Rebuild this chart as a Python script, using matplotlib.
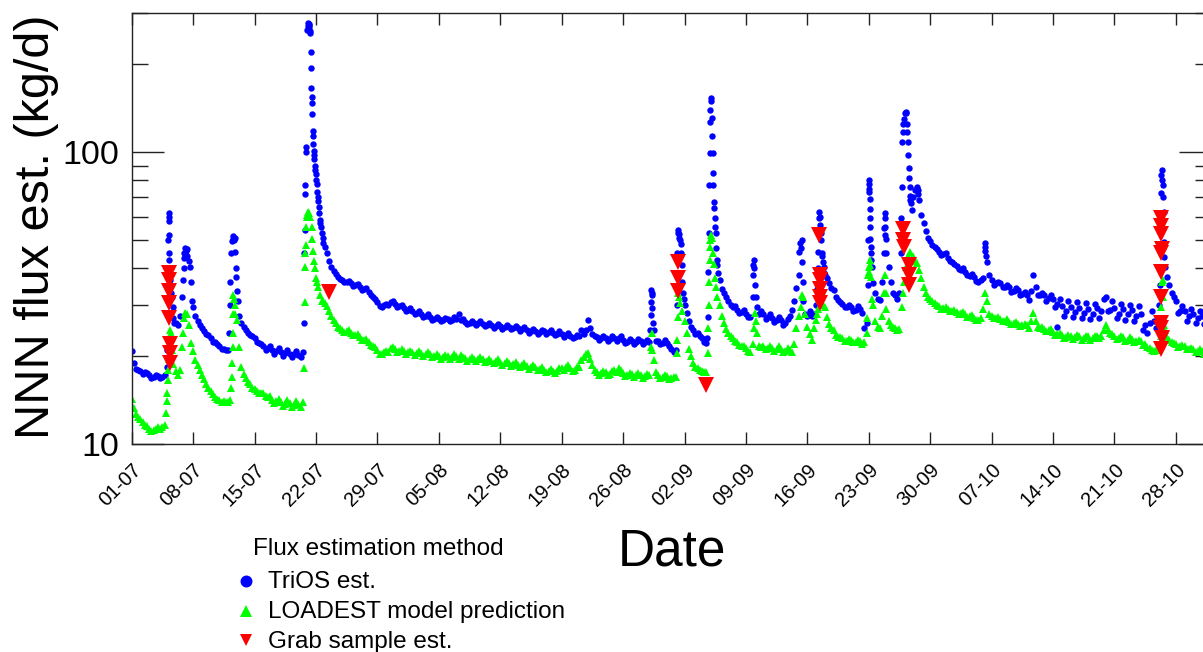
import numpy as np
import pandas as pd
import matplotlib
matplotlib.use("Agg")
import matplotlib.pyplot as plt
import matplotlib.dates as mdates
from matplotlib import ticker
from matplotlib.lines import Line2D

plt.rcParams['font.family'] = ['Liberation Sans', 'DejaVu Sans']

start = pd.Timestamp('2014-07-01')

# TriOS NNN flux (kg/d), four readings a day (00, 06, 12, 18 h) from 1 July
trios_daily = [
    [20.8, 19.0, 18.1, 17.9], [17.8, 17.4, 17.6, 17.5], [17.2, 16.8, 17.0, 17.2],
    [17.1, 16.8, 17.0, 17.3], [18.4, 45.0, 33.0, 27.0], [26.0, 25.6, 27.5, 32.0],
    [45.0, 46.5, 42.5, 36.0], [29.5, 27.5, 26.3, 25.5], [24.9, 24.3, 23.9, 23.6],
    [23.0, 22.4, 22.3, 22.0], [21.6, 21.1, 21.1, 21.0], [21.0, 36.0, 50.5, 51.0],
    [33.5, 27.5, 26.0, 25.2], [24.6, 24.0, 23.7, 23.4], [23.0, 22.4, 22.2, 22.0],
    [21.6, 21.0, 21.3, 21.6], [21.0, 20.4, 20.8, 21.3], [20.6, 20.1, 20.5, 21.0],
    [20.4, 19.9, 20.3, 20.8], [20.2, 19.9, 20.6, 54.0], [262.0, 272.0, 155.0, 98.0],
    [84.0, 68.0, 57.0, 51.0], [47.3, 45.0, 42.5, 40.5], [39.3, 38.2, 37.4, 36.8],
    [36.4, 35.8, 36.0, 36.2], [35.5, 34.8, 35.0, 35.3], [34.5, 33.7, 34.0, 34.2],
    [33.2, 32.3, 32.0, 31.5], [30.6, 29.7, 29.5, 30.0], [30.3, 30.0, 30.6, 31.0],
    [30.2, 29.5, 29.6, 30.0], [29.3, 28.6, 28.9, 29.3], [28.5, 27.9, 28.1, 28.6],
    [28.0, 27.3, 27.5, 28.0], [27.2, 26.6, 26.8, 27.3], [26.9, 26.4, 26.6, 27.1],
    [26.8, 26.3, 26.7, 27.2], [26.8, 27.8, 26.7, 26.9], [26.2, 25.7, 25.9, 26.3],
    [25.9, 25.5, 26.0, 26.4], [25.8, 25.3, 25.6, 26.0], [25.5, 25.0, 25.3, 25.7],
    [25.3, 24.8, 25.1, 25.6], [25.2, 24.7, 25.0, 25.4], [24.9, 24.4, 24.7, 25.1],
    [24.5, 24.0, 24.3, 24.7], [24.4, 23.9, 24.2, 24.6], [24.3, 23.8, 24.2, 24.6],
    [24.1, 23.6, 23.9, 24.3], [23.8, 23.3, 23.6, 24.0], [23.5, 23.0, 23.3, 23.7],
    [23.4, 24.6, 23.8, 24.5], [26.6, 25.0, 23.9, 23.5], [23.3, 22.8, 23.1, 23.5],
    [23.1, 22.6, 22.9, 23.4], [23.0, 22.5, 23.0, 23.5], [22.7, 22.2, 22.4, 22.9],
    [22.6, 22.1, 22.4, 22.9], [22.5, 22.0, 22.3, 22.8], [22.4, 33.0, 24.5, 22.6],
    [22.5, 22.0, 22.2, 22.8], [22.2, 21.6, 21.2, 20.6], [21.0, 53.0, 50.0, 36.0],
    [30.0, 28.1, 26.5, 25.2], [24.5, 23.8, 24.0, 23.4], [23.0, 22.3, 22.2, 53.0],
    [154.0, 85.0, 55.5, 41.0], [36.4, 34.0, 32.8, 31.8], [31.0, 29.9, 29.5, 29.6],
    [28.9, 28.1, 28.3, 28.7], [27.9, 27.2, 27.2, 32.0], [35.0, 29.5, 28.0, 28.6],
    [27.8, 26.8, 27.3, 28.0], [27.0, 26.2, 26.6, 27.3], [26.6, 25.6, 26.0, 26.8],
    [27.5, 28.8, 31.0, 34.2], [38.0, 47.0, 31.0, 28.0], [27.5, 28.5, 27.5, 28.0],
    [30.0, 45.4, 53.0, 42.0], [38.0, 37.0, 35.5, 34.3], [33.6, 32.0, 31.2, 30.6],
    [30.3, 29.4, 29.5, 30.0], [29.5, 28.6, 28.9, 29.6], [29.0, 28.1, 25.0, 26.0],
    [75.0, 42.7, 35.5, 33.0], [31.5, 31.1, 36.0, 55.0], [45.0, 40.5, 36.0, 33.0],
    [32.5, 31.5, 33.0, 76.2], [130.0, 136.0, 98.0, 68.5], [70.0, 74.0, 76.0, 68.5],
    [61.0, 57.0, 53.5, 51.0], [49.5, 48.0, 47.2, 46.5], [45.5, 44.6, 44.8, 45.0],
    [43.5, 42.5, 42.2, 41.5], [40.8, 39.8, 39.6, 40.0], [39.0, 37.8, 37.6, 38.2],
    [37.5, 36.3, 35.8, 36.5], [37.0, 48.9, 42.0, 38.0], [36.4, 35.2, 35.5, 36.0],
    [35.5, 34.4, 34.6, 35.2], [34.5, 33.3, 33.5, 34.2], [33.6, 32.3, 32.6, 33.3],
    [32.4, 31.1, 33.5, 37.9], [34.5, 32.5, 32.3, 33.0], [32.4, 30.8, 31.6, 32.5],
    [31.5, 29.4, 30.3, 31.5], [29.8, 27.5, 28.6, 30.8], [29.5, 27.2, 28.4, 30.6],
    [29.3, 27.0, 28.2, 30.4], [29.0, 26.8, 28.0, 30.2], [29.2, 27.0, 28.6, 31.5],
    [31.8, 28.6, 28.8, 30.8], [29.3, 27.0, 28.0, 30.2], [29.0, 26.7, 27.8, 30.0],
    [28.7, 26.4, 27.5, 29.7], [28.0, 24.6, 25.5, 24.0], [26.0, 28.5, 26.5, 25.0],
    [24.5, 55.0, 77.0, 40.5], [37.4, 35.0, 33.0, 31.9], [31.0, 28.2, 28.5, 29.8],
    [28.6, 26.5, 27.5, 29.0], [28.0, 25.9, 27.0, 28.5], [27.5, 25.7, 26.6, 28.0],
]

# extra TriOS readings through the storm peaks: (days since 1 July, kg/d)
trios_storm = [
    (4.05, 21.0), (4.1, 28.0), (4.14, 40.0), (4.17, 50.0), (4.2, 58.0), (4.22, 61.8),
    (4.24, 60.0), (4.27, 52.0), (4.3, 42.7), (4.35, 40.0), (4.42, 36.4), (4.58, 31.8),
    (4.65, 29.5), (4.85, 26.0),
    (5.85, 36.5), (5.92, 40.0), (5.97, 43.5), (6.1, 47.0), (6.18, 46.0), (6.35, 44.0),
    (6.6, 40.4), (6.88, 31.0),
    (11.1, 24.0), (11.17, 30.0), (11.35, 45.0), (11.42, 49.5), (11.6, 51.5), (11.68, 50.0),
    (11.82, 45.5), (11.88, 40.0), (11.93, 37.5), (12.1, 31.0),
    (19.62, 26.0), (19.68, 45.0), (19.78, 72.0), (19.8, 77.0), (19.84, 100.0), (19.86, 104.0),
    (20.05, 270.0), (20.1, 277.0), (20.15, 275.0), (20.2, 268.0), (20.3, 260.0), (20.35, 256.0),
    (20.4, 220.0), (20.43, 194.0), (20.47, 166.0), (20.55, 147.0), (20.58, 135.0), (20.62, 118.0),
    (20.65, 114.0), (20.7, 107.0), (20.72, 101.0), (20.8, 94.6), (20.88, 90.0), (20.93, 87.0),
    (21.05, 80.0), (21.1, 78.0), (21.15, 73.0), (21.2, 70.0), (21.3, 65.0), (21.38, 62.0),
    (21.45, 58.5), (21.55, 55.5), (21.65, 52.8), (21.85, 49.0),
    (59.1, 24.6), (59.13, 27.7), (59.17, 30.7), (59.2, 33.6), (59.3, 32.4), (59.33, 29.2),
    (59.38, 25.9),
    (62.1, 30.0), (62.17, 45.0), (62.3, 54.1), (62.35, 52.5), (62.42, 51.0), (62.55, 48.5),
    (62.62, 45.0), (62.68, 41.0), (62.85, 33.0), (62.92, 31.5),
    (65.6, 23.0), (65.65, 27.2), (65.7, 38.8), (65.8, 77.0), (65.85, 99.5), (65.9, 127.0),
    (65.95, 139.0), (66.05, 150.0), (66.1, 131.0), (66.15, 114.0), (66.2, 99.0), (66.3, 77.0),
    (66.35, 67.6), (66.4, 64.5), (66.45, 59.5), (66.55, 52.8), (66.62, 47.0), (66.7, 42.7),
    (66.85, 38.5),
    (70.8, 38.0), (70.85, 41.0), (70.9, 42.7), (70.95, 40.0), (71.1, 32.0),
    (76.1, 45.4), (76.2, 48.8), (76.35, 50.0), (76.4, 42.0), (76.45, 36.0),
    (78.1, 34.0), (78.2, 40.0), (78.3, 59.5), (78.35, 62.2), (78.4, 60.0), (78.45, 56.5),
    (78.55, 50.0), (78.65, 45.0), (78.7, 44.0), (78.85, 40.5), (78.92, 38.5),
    (83.9, 35.0), (83.95, 50.0), (84.03, 80.0), (84.05, 78.0), (84.07, 73.0), (84.09, 69.3),
    (84.11, 64.0), (84.13, 59.3), (84.15, 55.5), (84.18, 50.6), (84.2, 47.4), (84.22, 45.0),
    (84.32, 40.5),
    (85.7, 45.0), (85.8, 61.7), (85.83, 59.3), (85.86, 55.5), (85.9, 52.0), (85.95, 50.3),
    (87.65, 45.0), (87.7, 59.3), (87.8, 108.0), (87.85, 117.0), (87.9, 125.0), (88.1, 136.0),
    (88.2, 137.6), (88.3, 125.0), (88.4, 117.0), (88.45, 108.0), (88.55, 88.0), (88.62, 81.5),
    (88.68, 76.0), (88.72, 71.0), (88.82, 66.8), (88.9, 63.4), (89.6, 74.0), (89.65, 72.0),
    (97.2, 46.0), (97.3, 47.4), (97.38, 44.0),
    (105.4, 25.2),
    (117.1, 30.0), (117.2, 35.0), (117.3, 72.3), (117.35, 83.3), (117.4, 86.6), (117.45, 80.0),
    (117.55, 70.2), (117.6, 62.4), (117.65, 49.3), (117.7, 43.8),
]

# LOADEST model prediction (kg/d), same 6-hourly grid
loadest_daily = [
    [14.3, 13.3, 12.7, 12.4], [12.2, 11.9, 11.6, 11.5], [11.3, 11.1, 11.2, 11.3],
    [11.4, 11.3, 11.4, 11.6], [14.0, 19.5, 24.0, 18.8], [17.8, 17.2, 18.0, 21.5],
    [27.0, 28.0, 25.5, 22.2], [20.8, 19.4, 18.6, 17.9], [17.3, 16.7, 16.1, 15.6],
    [15.2, 14.8, 14.5, 14.3], [14.1, 13.9, 14.0, 13.9], [13.9, 14.2, 21.5, 30.0],
    [26.6, 21.5, 18.4, 17.4], [16.8, 16.3, 16.0, 15.6], [15.4, 15.2, 15.0, 15.0],
    [14.9, 14.6, 14.5, 14.6], [14.2, 13.8, 14.0, 14.3], [13.9, 13.5, 13.7, 14.1],
    [13.8, 13.4, 13.6, 14.0], [13.7, 13.4, 13.9, 40.5], [61.0, 62.0, 55.5, 42.5],
    [37.0, 34.5, 32.5, 31.0], [30.5, 29.8, 28.6, 27.4], [26.6, 26.0, 25.2, 24.9],
    [24.6, 24.2, 24.4, 24.5], [24.0, 23.6, 23.7, 23.8], [23.2, 22.7, 22.8, 22.9],
    [22.3, 21.8, 21.7, 21.5], [21.0, 20.4, 20.3, 20.6], [20.9, 20.7, 21.3, 21.5],
    [21.2, 20.7, 20.9, 21.1], [20.8, 20.3, 20.6, 20.9], [20.7, 20.2, 20.5, 20.8],
    [20.5, 20.0, 20.3, 20.6], [20.3, 19.8, 20.1, 20.4], [20.1, 19.6, 19.9, 20.2],
    [20.0, 19.5, 19.9, 20.3], [20.0, 19.6, 20.2, 19.9], [19.7, 19.3, 19.6, 19.9],
    [19.6, 19.2, 19.5, 19.8], [19.5, 19.1, 19.3, 19.6], [19.3, 18.9, 19.2, 19.5],
    [19.1, 18.7, 19.0, 19.3], [18.9, 18.5, 18.8, 19.1], [18.7, 18.3, 18.6, 18.9],
    [18.5, 18.1, 18.4, 18.7], [18.3, 17.9, 18.1, 18.4], [18.0, 17.6, 17.8, 18.1],
    [17.8, 17.5, 17.8, 18.2], [18.2, 18.0, 18.4, 18.6], [18.2, 17.8, 18.0, 18.3],
    [18.3, 19.4, 19.9, 20.3], [20.5, 19.6, 18.6, 18.0], [17.7, 17.3, 17.5, 17.8],
    [17.6, 17.2, 17.4, 17.8], [17.9, 17.6, 18.2, 18.0], [17.5, 17.1, 17.2, 17.5],
    [17.4, 17.0, 17.2, 17.5], [17.3, 16.9, 17.1, 17.4], [17.3, 24.0, 19.4, 17.6],
    [17.2, 16.8, 17.0, 17.3], [17.1, 16.7, 16.8, 17.0], [17.0, 33.0, 30.5, 28.5],
    [26.5, 24.0, 21.2, 20.0], [19.0, 18.4, 18.2, 18.0], [17.8, 17.6, 17.7, 30.0],
    [52.0, 45.0, 37.0, 32.0], [30.0, 27.5, 26.0, 24.8], [24.0, 23.4, 23.0, 22.6],
    [22.3, 21.8, 21.7, 21.6], [21.3, 20.8, 20.7, 22.0], [28.1, 24.0, 21.6, 21.5],
    [21.6, 21.1, 21.3, 21.7], [21.4, 20.9, 21.2, 21.6], [21.2, 20.6, 20.9, 21.4],
    [21.0, 20.6, 22.0, 25.0], [27.5, 29.5, 32.0, 28.0], [25.2, 23.8, 22.7, 25.0],
    [26.6, 29.0, 31.0, 30.0], [29.5, 27.2, 25.8, 24.9], [24.5, 23.6, 23.3, 23.2],
    [23.0, 22.5, 22.6, 22.9], [22.8, 22.3, 22.4, 22.7], [22.6, 22.1, 22.3, 24.0],
    [39.0, 37.5, 30.0, 26.5], [25.2, 25.0, 27.5, 33.0], [29.0, 26.5, 25.5, 25.2],
    [25.0, 24.6, 24.8, 29.5], [36.0, 40.5, 44.0, 45.5], [44.0, 42.5, 41.7, 39.4],
    [37.0, 34.5, 33.0, 31.8], [31.5, 30.8, 30.5, 30.0], [29.6, 29.0, 29.2, 29.4],
    [29.0, 28.5, 28.6, 28.8], [28.4, 27.9, 28.1, 28.3], [27.8, 27.3, 27.5, 27.7],
    [27.1, 26.6, 26.6, 27.0], [29.0, 33.0, 31.0, 28.0], [27.5, 27.0, 27.1, 27.3],
    [26.9, 26.4, 26.5, 26.8], [26.2, 25.7, 25.9, 26.2], [25.8, 25.3, 25.5, 25.8],
    [25.5, 25.0, 26.5, 28.1], [26.5, 25.2, 24.9, 25.1], [24.8, 24.3, 24.5, 24.7],
    [24.2, 23.7, 23.9, 24.1], [23.7, 23.1, 23.3, 23.6], [23.5, 22.9, 23.2, 23.6],
    [23.4, 22.8, 23.1, 23.5], [23.4, 22.8, 23.0, 23.4], [23.5, 23.0, 23.4, 24.6],
    [25.6, 24.5, 24.0, 23.9], [23.5, 22.9, 23.1, 23.5], [23.2, 22.6, 22.8, 23.2],
    [22.9, 22.3, 22.5, 22.8], [22.5, 21.9, 22.0, 21.5], [21.3, 21.0, 20.8, 21.0],
    [21.0, 23.5, 36.4, 24.5], [23.3, 22.7, 22.4, 22.2], [22.0, 21.5, 21.6, 21.8],
    [21.6, 21.1, 21.2, 21.4], [21.2, 20.7, 20.9, 21.1], [20.9, 20.4, 20.6, 20.8],
]

loadest_storm = [
    (3.95, 12.8), (4.05, 15.0), (4.1, 16.6), (4.15, 17.9), (4.4, 24.6), (4.6, 21.0),
    (5.9, 24.0), (6.1, 28.1),
    (11.35, 15.5), (11.4, 17.0), (11.45, 19.0), (11.53, 24.0), (11.57, 28.0), (11.6, 32.4),
    (11.65, 31.5), (11.8, 28.0),
    (19.64, 18.2), (19.7, 30.6), (19.8, 45.0), (19.85, 48.0), (19.9, 55.5), (19.95, 60.0),
    (20.1, 62.4), (20.35, 60.0), (20.6, 50.5), (20.7, 46.0), (20.85, 40.0), (21.1, 36.0),
    (21.65, 31.0),
    (59.15, 21.5), (59.35, 21.0),
    (62.12, 20.5), (62.17, 22.7), (62.21, 27.2), (62.35, 32.0),
    (65.65, 20.5), (65.7, 25.0), (65.8, 35.9), (65.85, 42.7), (65.9, 47.3), (65.95, 50.0),
    (66.12, 51.0), (66.35, 41.5), (66.6, 34.5),
    (70.9, 25.0), (71.1, 26.5),
    (76.35, 32.4),
    (78.1, 28.0), (78.4, 31.2),
    (83.85, 27.0), (83.95, 38.0), (84.05, 40.5), (84.1, 42.7), (84.15, 41.0), (84.4, 31.5),
    (85.85, 37.9), (85.95, 33.0),
    (87.9, 33.0),
    (117.35, 29.5), (117.45, 36.0), (117.55, 31.9), (117.65, 25.5),
]

# grab sample flux estimates: (days since 1 July, kg/d)
grab = [
    (4.27, 38.5), (4.27, 36.5), (4.29, 33.5), (4.29, 30.5), (4.3, 27.0), (4.33, 22.0),
    (4.33, 20.5), (4.35, 19.0),
    (22.5, 33.2),
    (62.3, 42.0), (62.3, 37.0), (62.3, 33.5),
    (65.44, 15.9),
    (78.35, 52.0), (78.4, 38.0), (78.4, 36.5), (78.45, 34.0), (78.45, 32.0), (78.45, 30.5),
    (87.9, 54.5), (87.9, 50.0), (88.0, 47.5), (88.55, 41.0), (88.6, 38.0), (88.6, 35.0),
    (117.3, 59.5), (117.35, 56.0), (117.35, 52.5), (117.4, 46.5), (117.35, 45.0),
    (117.35, 39.0), (117.3, 32.0), (117.35, 26.0), (117.35, 25.0), (117.4, 23.0),
    (117.35, 21.2),
]


def series(daily, storm):
    v = np.asarray(daily, dtype=float).ravel()
    t = np.arange(v.size) * 0.25
    st, sv = zip(*storm)
    t = np.concatenate([t, st])
    v = np.concatenate([v, sv])
    order = np.argsort(t, kind='stable')
    return start + pd.to_timedelta(t[order], unit='D'), v[order]


trios_t, trios_v = series(trios_daily, trios_storm)
load_t, load_v = series(loadest_daily, loadest_storm)
grab_days, grab_v = zip(*grab)
grab_t = start + pd.to_timedelta(np.array(grab_days), unit='D')

W, H = 1203, 652
fig = plt.figure(figsize=(W / 100, H / 100), dpi=100)
ax = fig.add_axes([131.7 / W, 1 - 444 / H, (1211 - 131.7) / W, (444 - 13) / H])

ax.plot(trios_t, trios_v, ls='none', marker='o', ms=4.6, mew=0, color='#0000ff')
ax.plot(load_t, load_v, ls='none', marker='^', ms=5.8, mew=0, color='#00ff00')
ax.plot(grab_t, grab_v, ls='none', marker='v', ms=11, mew=0, color='#ff0000')

ax.set_yscale('log')
ax.set_ylim(10, 300)
ax.set_xlim(start, start + pd.Timedelta(days=123))

weeks = pd.date_range(start, periods=18, freq='7D')
ax.xaxis.set_major_locator(ticker.FixedLocator(mdates.date2num(weeks)))
ax.xaxis.set_major_formatter(mdates.DateFormatter('%d-%m'))
ax.xaxis.set_minor_locator(ticker.NullLocator())
ax.yaxis.set_major_locator(ticker.FixedLocator([10, 100]))
ax.yaxis.set_major_formatter(ticker.FormatStrFormatter('%g'))
ax.yaxis.set_minor_locator(ticker.LogLocator(subs=np.arange(2, 10)))
ax.yaxis.set_minor_formatter(ticker.NullFormatter())

for s in ax.spines.values():
    s.set_linewidth(1.0)
    s.set_color('#222222')
ax.tick_params(axis='x', which='major', direction='in', length=8.6, width=1.0,
               color='#222222', top=True, bottom=True, labelsize=14.5, pad=11.8)
ax.tick_params(axis='y', which='major', direction='in', length=23, width=1.0,
               color='#222222', left=True, right=True, labelsize=24.5, pad=9)
ax.tick_params(axis='y', which='minor', direction='in', length=11.5, width=1.0,
               color='#222222', left=True, right=True)
plt.setp(ax.get_xticklabels(), rotation=45, ha='right', va='top', rotation_mode='anchor')

fig.text(49 / W, 1 - 227 / H, 'NNN flux est. (kg/d)', rotation=90, rotation_mode='anchor',
         ha='center', va='baseline', fontsize=35)
fig.text(672 / W, 1 - 565 / H, 'Date', ha='center', va='baseline', fontsize=37)

# legend below the axis
fig.text(253 / W, 1 - 555 / H, 'Flux estimation method', ha='left', va='baseline', fontsize=17.5)
entries = [
    ('TriOS est.', 'o', '#0000ff', 8.6, 580.5, 588),
    ('LOADEST model prediction', '^', '#00ff00', 9.0, 611, 618),
    ('Grab sample est.', 'v', '#ff0000', 9.0, 639.5, 648),
]
for label, mk, col, size, ym, yb in entries:
    fig.add_artist(Line2D([246 / W], [1 - ym / H], transform=fig.transFigure, ls='none',
                          marker=mk, ms=size, mew=0, color=col))
    fig.text(268 / W, 1 - yb / H, label, ha='left', va='baseline', fontsize=17.5)

fig.savefig('out.png', dpi=100)
